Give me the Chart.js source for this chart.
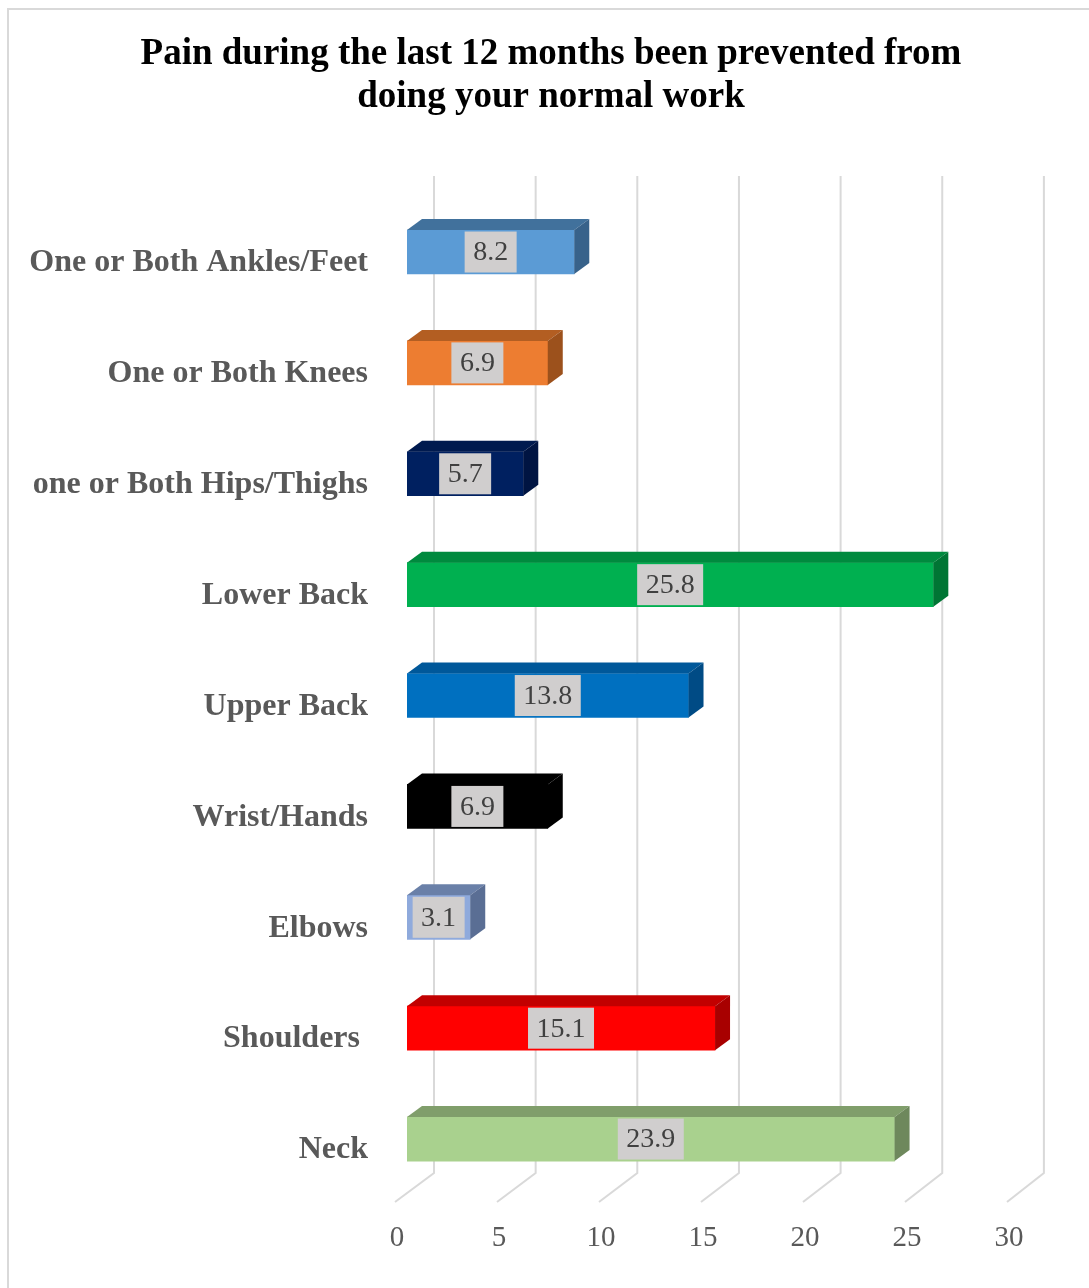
<!DOCTYPE html>
<html>
<head>
<meta charset="utf-8">
<script src="https://cdn.jsdelivr.net/npm/chart.js@4.4.1/dist/chart.umd.min.js"></script>
<style>
  html, body { margin: 0; padding: 0; background: #ffffff; }
  canvas { display: block; }
</style>
</head>
<body>
<canvas id="chart" width="1089" height="1288"></canvas>
<script>
// Body regions, top to bottom
const categories = [
  'One or Both Ankles/Feet',
  'One or Both Knees',
  'one or Both Hips/Thighs',
  'Lower Back',
  'Upper Back',
  'Wrist/Hands',
  'Elbows',
  'Shoulders ',
  'Neck'
];
// Percentage of respondents
const values = [8.2, 6.9, 5.7, 25.8, 13.8, 6.9, 3.1, 15.1, 23.9];
// Axis ticks
const xTicks = [0, 5, 10, 15, 20, 25, 30];

// Face colours: front, top, right side
const frontColors = ['#5b9bd5', '#ed7d31', '#002060', '#00b050', '#0070c0', '#000000', '#8faadc', '#ff0000', '#a9d18e'];
const topColors   = ['#41719c', '#b35e22', '#001a4f', '#008a3e', '#00589a', '#000000', '#6a80a8', '#c20000', '#809e6b'];
const sideColors  = ['#38628a', '#9c511c', '#001442', '#007534', '#004b85', '#000000', '#5a6e94', '#a80000', '#6e885c'];

const DEPTH_X = 15, DEPTH_Y = 11;     // bar depth
const SERIF = '"Liberation Serif", "Times New Roman", serif';

// page frame
const framePlugin = {
  id: 'frame',
  beforeDraw(chart) {
    const ctx = chart.ctx;
    ctx.save();
    ctx.fillStyle = '#ffffff';
    ctx.fillRect(0, 0, chart.width, chart.height);
    ctx.strokeStyle = '#d9d9d9';
    ctx.lineWidth = 2;
    ctx.strokeRect(8, 9, chart.width + 20, chart.height + 20);
    ctx.restore();
  }
};

// perspective gridlines: back wall verticals plus floor diagonals
const wallPlugin = {
  id: 'wall',
  beforeDatasetsDraw(chart) {
    const xs = chart.scales.x;
    const area = chart.chartArea;
    const ctx = chart.ctx;
    ctx.save();
    ctx.strokeStyle = '#d9d9d9';
    ctx.lineWidth = 2;
    xTicks.forEach(v => {
      const p = xs.getPixelForValue(v);
      const bx = p + 27 - v * 0.07;
      ctx.beginPath();
      ctx.moveTo(bx, area.top - 20.5);
      ctx.lineTo(bx, area.bottom - 21.5);
      ctx.lineTo(p - 12, area.bottom + 7.5);
      ctx.stroke();
    });
    ctx.restore();
  }
};

// top/side faces and value boxes
const depthPlugin = {
  id: 'depth',
  afterDatasetsDraw(chart) {
    const ctx = chart.ctx;
    const meta = chart.getDatasetMeta(0);
    ctx.save();
    meta.data.forEach((bar, i) => {
      const { x, y, base, height } = bar.getProps(['x', 'y', 'base', 'height'], true);
      const top = y - height / 2, bottom = y + height / 2;
      const x0 = Math.min(base, x), x1 = Math.max(base, x);
      // top face
      ctx.fillStyle = topColors[i];
      ctx.beginPath();
      ctx.moveTo(x0, top);
      ctx.lineTo(x0 + DEPTH_X, top - DEPTH_Y);
      ctx.lineTo(x1 + DEPTH_X, top - DEPTH_Y);
      ctx.lineTo(x1, top);
      ctx.closePath();
      ctx.fill();
      // right face
      ctx.fillStyle = sideColors[i];
      ctx.beginPath();
      ctx.moveTo(x1, top);
      ctx.lineTo(x1 + DEPTH_X, top - DEPTH_Y);
      ctx.lineTo(x1 + DEPTH_X, bottom - DEPTH_Y);
      ctx.lineTo(x1, bottom);
      ctx.closePath();
      ctx.fill();

      // value box
      const text = values[i].toFixed(1);
      ctx.font = '28px ' + SERIF;
      const tw = ctx.measureText(text).width;
      const bw = tw + 17, bh = height - 3;
      const cx = (x0 + x1) / 2;
      ctx.fillStyle = '#d0cece';
      ctx.fillRect(cx - bw / 2, y - bh / 2, bw, bh);
      ctx.fillStyle = '#404040';
      ctx.textAlign = 'center';
      ctx.textBaseline = 'middle';
      ctx.fillText(text, cx, y + 1);
    });
    ctx.restore();
  }
};

new Chart(document.getElementById('chart'), {
  type: 'bar',
  data: {
    labels: categories,
    datasets: [{
      data: values,
      backgroundColor: frontColors,
      borderWidth: 0,
      barThickness: 44
    }]
  },
  options: {
    indexAxis: 'y',
    responsive: false,
    animation: false,
    layout: { padding: { left: 13, right: 0, top: 0, bottom: 0 } },
    plugins: {
      legend: { display: false },
      tooltip: { enabled: false },
      title: {
        display: true,
        text: ['Pain during the last 12 months been prevented from', 'doing your normal work'],
        color: '#000000',
        font: { family: SERIF, size: 37, weight: 'bold', lineHeight: 1.17 },
        padding: { top: 33, bottom: 77 }
      }
    },
    scales: {
      x: {
        min: 0,
        max: 30,
        afterBuildTicks(scale) { scale.ticks = xTicks.map(v => ({ value: v })); },
        afterFit(scale) { scale.height = 93.5; },
        grid: { display: false, drawTicks: false },
        border: { display: false },
        ticks: {
          color: '#595959',
          font: { family: SERIF, size: 29 },
          padding: 26,
          labelOffset: -10,
          maxRotation: 0,
          autoSkip: false
        }
      },
      y: {
        afterFit(scale) { scale.width = 394; },
        grid: { display: false, drawTicks: false },
        border: { display: false },
        ticks: {
          color: '#595959',
          font: { family: SERIF, size: 32, weight: 'bold' },
          padding: 39,
          labelOffset: 11,
          autoSkip: false
        }
      },
      // empty right-hand margin reserved for the bar depth and back wall
      margin: {
        type: 'linear',
        position: 'right',
        display: true,
        grid: { display: false, drawTicks: false },
        border: { display: false },
        ticks: { display: false },
        afterFit(scale) { scale.width = 70; }
      }
    }
  },
  plugins: [framePlugin, wallPlugin, depthPlugin]
});
</script>
</body>
</html>
